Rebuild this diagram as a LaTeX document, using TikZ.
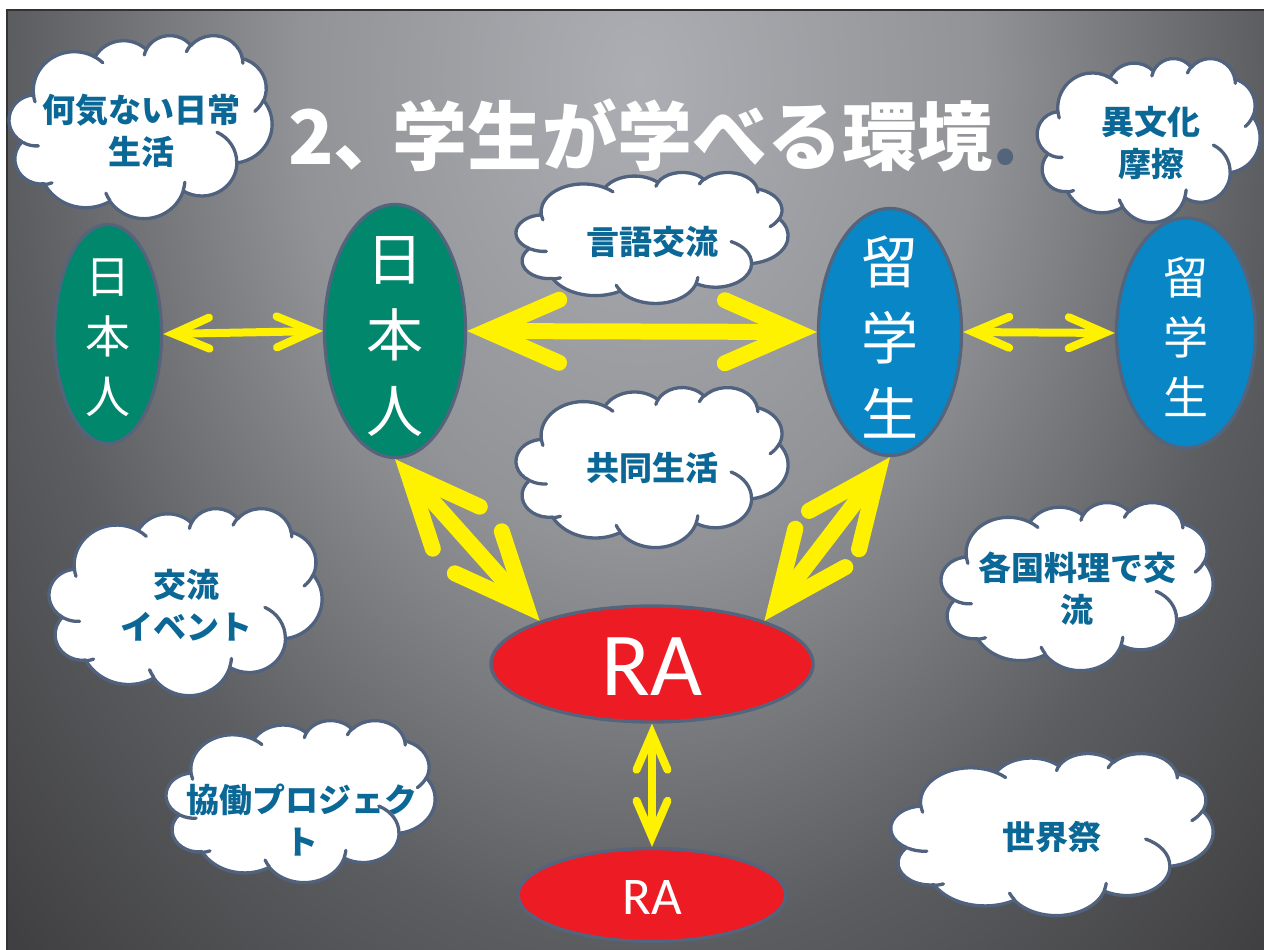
\documentclass[tikz,border=0pt]{standalone}
\usepackage{fontspec}
\setmainfont{Carlito}
\newfontfamily\jp{Noto Sans CJK JP}
\usetikzlibrary{arrows.meta,shapes.geometric}
\definecolor{bgA}{RGB}{172,174,179}
\definecolor{bgB}{RGB}{146,147,151}
\definecolor{bgC}{RGB}{92,93,96}
\definecolor{bgD}{RGB}{64,64,66}
\definecolor{bgE}{RGB}{58,58,60}
\definecolor{yel}{RGB}{255,242,0}
\definecolor{grn}{RGB}{0,135,108}
\definecolor{blu}{RGB}{8,134,197}
\definecolor{rd}{RGB}{237,28,36}
\definecolor{edge}{RGB}{84,100,124}
\definecolor{cloudline}{RGB}{80,98,125}
\definecolor{cloudtxt}{RGB}{11,104,150}
\definecolor{framec}{RGB}{50,50,50}
\pgfdeclareradialshading{bgshade}{\pgfpoint{0bp}{0bp}}{color(0bp)=(bgA); color(10bp)=(bgB); color(18.5bp)=(bgC); color(26bp)=(bgD); color(50bp)=(bgE)}
% elliptical arc with visual start angle #1, sweep #2, radii #3,#4
\newcommand{\varc}[4]{arc[start angle={atan2((#3)*sin(#1),(#4)*cos(#1))}, delta angle={mod(atan2((#3)*sin((#1)+(#2)),(#4)*cos((#1)+(#2)))-atan2((#3)*sin(#1),(#4)*cos(#1))+720,360)}, x radius=#3, y radius=#4]}
% PowerPoint-like cloud in a 4320 x 4320 box: #1,#2 top-left, #3,#4 scale per unit
\newcommand{\pcloud}[4]{%
\begin{scope}[shift={(#1,#2)}, x=#3pt, y=-#4pt]
\filldraw[cloudpath, fill=white] (390,1437)
 \varc{-190.4875}{123.7805}{675.3}{919.0}
 \varc{-144.1024}{89.9452}{533.3}{726.7}
 \varc{-145.8079}{99.7230}{436.5}{594.5}
 \varc{-130.9861}{117.2417}{485.7}{659.5}
 \varc{-78.7089}{109.0269}{533.3}{727.3}
 \varc{-46.2673}{130.2690}{677.5}{922.0}
 \varc{0.6250}{114.0333}{578.5}{786.7}
 \varc{22.4516}{115.1726}{675.2}{921.5}
 \varc{66.2426}{78.0375}{772.0}{1054.3}
 \varc{-274.9421}{146.7356}{436.0}{591.8}
 \varc{-246.8285}{152.5189}{434.5}{594.5}
 -- cycle;
\draw[cloudpath, line cap=round]
 (469.3,2617.7) \varc{86.7420}{26.4295}{434.5}{594.5}
 (692.8,3489.9) \varc{73.6105}{11.4475}{436.0}{591.8}
 (1647.8,3909.0) \varc{137.6242}{14.0811}{675.2}{921.5}
 (2882.7,3475.1) \varc{6.4533}{15.9984}{675.2}{921.5}
 (3412.9,2295.4) \varc{-70.2924}{70.9174}{578.5}{786.7}
 (4179.8,1535.4) \varc{30.3180}{27.7515}{533.3}{727.3}
 (3832.4,542.6) \varc{-13.7443}{14.8589}{485.7}{659.5}
 (2907.8,395.2) \varc{-149.1815}{18.1954}{485.7}{659.5}
 (2214.1,472.0) \varc{-163.4943}{17.6864}{436.5}{594.5}
 (1400.0,519.2) \varc{-66.7070}{12.3194}{675.3}{919.0}
 (412.7,1578.9) \varc{157.6544}{11.8582}{675.3}{919.0};
\end{scope}}
\begin{document}
\begin{tikzpicture}[x=1pt,y=-1pt,
  cloudpath/.style={draw=cloudline, line width=3.3pt, line join=round},
  ell/.style={ellipse, draw=edge, line width=3.3pt, inner sep=0pt},
  cloudtext/.style={font=\jp\bfseries\fontsize{33}{42}\selectfont, text=cloudtxt, align=center, inner sep=0pt},
  vtextL/.style={font=\jp\fontsize{57}{76}\selectfont, text=white, align=center, inner sep=0pt},
  vtextS/.style={font=\jp\fontsize{45}{60}\selectfont, text=white, align=center, inner sep=0pt},
  smallarrow/.style={draw=yel, line width=8pt, >={Straight Barb[length=36pt,width=31pt,line cap=round,line join=miter]}, <->},
  bigarrow/.style={draw=yel, line width=16pt, >={Straight Barb[length=72pt,width=63pt,line cap=round,line join=miter]}, <->}
]
\useasboundingbox (0,0) rectangle (1264,950);
\fill[white] (0,0) rectangle (1264,950);
\begin{scope}
  \clip (7,10) rectangle (1264,950);
  \shade[shading=bgshade] (-210,-1085) rectangle (1490,1245);
\end{scope}
\draw[framec, line width=2pt] (7,950) -- (7,10) -- (1264,10);

% title
\node[font=\jp\bfseries\fontsize{75}{80}\selectfont, text=white, anchor=west, inner sep=0pt] (title) at (288,135) {2、\kern-16pt 学生が学べる環境{\color{edge}.}};

% clouds
\pcloud{10}{35}{0.060648}{0.042361}
\node[cloudtext] (t1) at (141,131) {何気ない日常\\生活};
\pcloud{1038}{58}{0.051389}{0.037963}
\node[cloudtext] (t2) at (1151,143) {異文化\\摩擦};
\pcloud{517}{172}{0.062731}{0.030324}
\node[cloudtext] (t3) at (652,242) {言語交流};
\pcloud{517}{387}{0.062731}{0.037037}
\node[cloudtext] (t4) at (652,468) {共同生活};
\pcloud{50}{508}{0.062963}{0.043287}
\node[cloudtext] (t5) at (186,605) {交流\\イベント};
\pcloud{167}{720}{0.062037}{0.0375}
\node[cloudtext] (t6) at (302,820) {協働プロジェク\\ト};
\pcloud{942}{502}{0.062731}{0.038889}
\node[cloudtext] (t7) at (1077,589) {各国料理で交\\流};
\pcloud{892}{753}{0.074306}{0.0375}
\node[cloudtext] (t8) at (1052,837) {世界祭};

% ellipses
\node[ell, fill=grn, minimum width=107pt, minimum height=219pt] (E1) at (108,334) {};
\node[vtextS] (E1t) at (108,338) {日\\本\\人};
\node[ell, fill=grn, minimum width=141pt, minimum height=253pt] (E2) at (395,331) {};
\node[vtextL] (E2t) at (395,337) {日\\本\\人};
\node[ell, fill=blu, minimum width=143pt, minimum height=247pt] (E3) at (890,332) {};
\node[vtextL] (E3t) at (890,337) {留\\学\\生};
\node[ell, fill=blu, minimum width=139pt, minimum height=230pt] (E4) at (1186,333) {};
\node[vtextS] (E4t) at (1186,337) {留\\学\\生};
\node[ell, fill=rd, minimum width=322pt, minimum height=116pt] (E5) at (652,664) {};
\node[font=\fontsize{90}{90}\selectfont, text=white, inner sep=0pt] (E5t) at (652,667) {RA};
\node[ell, fill=rd, minimum width=268pt, minimum height=93pt] (E6) at (652,895) {};
\node[font=\fontsize{53}{53}\selectfont, text=white, inner sep=0pt] (E6t) at (652,897) {RA};

% arrows
\draw[smallarrow] (E1.east) -- (E2.west);
\draw[bigarrow] (E2.east) -- (E3.west);
\draw[smallarrow] (E3.east) -- (E4.west);
\draw[bigarrow] (E2.south) -- (E5.159);
\draw[bigarrow] (E3.south) -- (E5.21);
\draw[smallarrow] (E5.south) -- (E6.north);
\end{tikzpicture}
\end{document}
